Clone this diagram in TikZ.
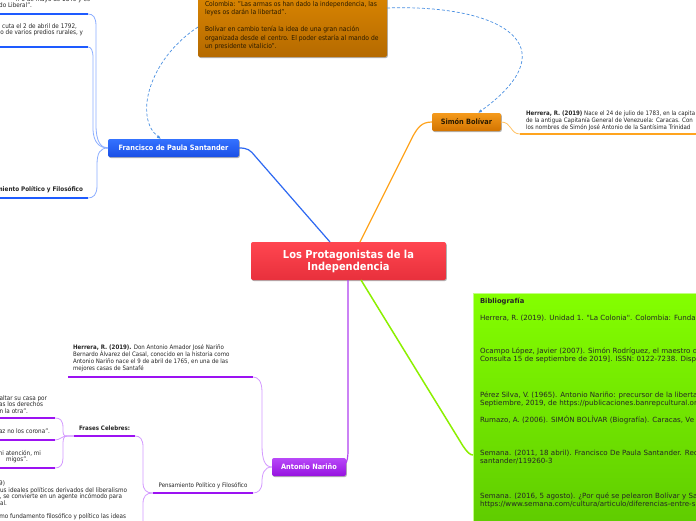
\documentclass[tikz,border=0pt]{standalone}
\usepackage{fontspec}
\setmainfont{DejaVu Sans}[FakeStretch=0.9]
\newfontfamily\bibfont{DejaVu Sans}
\usetikzlibrary{arrows.meta,shadows}
\definecolor{redtop}{HTML}{FF4650}
\definecolor{redbot}{HTML}{E8303C}
\definecolor{bluetop}{HTML}{3472FF}
\definecolor{bluebot}{HTML}{1A4FE6}
\definecolor{orgtop}{HTML}{F59A1C}
\definecolor{orgbot}{HTML}{D27400}
\definecolor{notetop}{HTML}{E38C02}
\definecolor{notebot}{HTML}{B56A00}
\definecolor{purtop}{HTML}{B848F8}
\definecolor{purbot}{HTML}{9612E0}
\definecolor{grntop}{HTML}{84FF00}
\definecolor{grnbot}{HTML}{5CC800}
\definecolor{bline}{HTML}{2D68F2}
\definecolor{blight}{HTML}{8CAEFF}
\definecolor{bthick}{HTML}{1E5BFF}
\definecolor{oline}{HTML}{FFA41E}
\definecolor{olight}{HTML}{FFC468}
\definecolor{pline}{HTML}{B040F0}
\definecolor{plight}{HTML}{D49AFF}
\definecolor{pthick}{HTML}{9C12F2}
\definecolor{gline}{HTML}{8CF000}
\definecolor{dashc}{HTML}{4A90E2}
\definecolor{txt}{HTML}{262626}
\definecolor{notetxt}{HTML}{2A1A00}
\newcommand\mmlines[1]{\parbox[t]{320pt}{#1}}
\begin{document}
\begin{tikzpicture}[x=1pt,y=-1pt,
  every node/.style={inner sep=0pt, outer sep=0pt, text=txt},
  shadowed/.style={drop shadow={shadow xshift=0.8pt,shadow yshift=-1pt,opacity=0.3,fill=black}},
  topic/.style={shadowed, rounded corners=2pt, minimum height=18, font=\fontsize{7.3}{8.5}\selectfont\bfseries},
  smr/.style={font=\fontsize{6.3}{7}\selectfont, anchor=base east},
  bibt/.style={font=\bibfont\fontsize{7.1}{8}\selectfont, anchor=base west},
  bthin/.style={blight, line width=0.8pt},
  bund/.style={bthick, line width=2.2pt},
  pthin/.style={plight, line width=0.8pt},
  pund/.style={pthick, line width=2.2pt},
  dashconn/.style={dashc, line width=0.7pt, dash pattern=on 3pt off 2pt, -{Latex[length=4pt,width=3.2pt]}}
]
\useasboundingbox (0,0) rectangle (696,520);
\clip (0,0) rectangle (696,520);
\fill[white] (0,0) rectangle (696,520);

% main nodes
\node[topic, top color=redtop, bottom color=redbot, text=white, minimum width=195, minimum height=38,
      font=\fontsize{11}{12}\selectfont\bfseries, align=center] (cent) at (348.5,261) {Los Protagonistas de la\\Independencia};
\node[topic, top color=bluetop, bottom color=bluebot, text=white, minimum width=131] (sant) at (173.5,148) {Francisco de Paula Santander};
\node[topic, top color=orgtop, bottom color=orgbot, text=notetxt, minimum width=69] (bol) at (466.5,122) {Simón Bolívar};
\node[topic, top color=purtop, bottom color=purbot, text=white, minimum width=74] (nar) at (309,467) {Antonio Nariño};
\node[shadowed, top color=notetop, bottom color=notebot, rounded corners=2pt, minimum width=189, minimum height=80, anchor=south west] (note) at (198,57) {};
\node[shadowed, top color=grntop, bottom color=grnbot, draw=grntop!50!white, line width=0.4pt, minimum width=240, minimum height=250, anchor=north west] (bib) at (473,293) {};

% note text
\node[anchor=base west, text=notetxt, font=\fontsize{6.7}{8.5}\selectfont] (notet) at (205,6)
  {\mmlines{Colombia: "Las armas os han dado la independencia, las\\leyes os darán la libertad".\\[8.5pt]Bolívar en cambio tenía la idea de una gran nación\\organizada desde el centro. El poder estaría al mando de\\un presidente vitalicio".}};

% dashed connectors
\draw[dashconn] ([yshift=-10pt]note.west) .. controls (148,60) and (134,118) .. ([xshift=-12.5pt]sant.north);
\draw[dashconn] ([yshift=9pt]note.east) .. controls (500,4) and (572,45) .. ([xshift=11.5pt]bol.north);

% central connectors
\draw[bline, line width=1.2pt] (sant.east) .. controls (248,148) and (250,150) .. (255,156) -- ([xshift=-18.5pt]cent.north);
\draw[oline, line width=1.2pt] (bol.west) .. controls (422,122) and (418,127) .. (413,136) -- ([xshift=11.5pt]cent.north);
\draw[pline, line width=1.2pt] ([xshift=-0.5pt]cent.south) -- (348,450) .. controls (348,458) and (347,461) .. ([yshift=4pt]nar.east);
\draw[gline, line width=1.5pt] ([xshift=12.5pt]cent.south) -- (463,446) .. controls (467,452) and (470,455) .. ([yshift=-37pt]bib.west);

% Simon Bolivar branch
\coordinate (bu1) at (520,134);
\coordinate (bu2) at (700,134);
\draw[olight, line width=0.8pt] (bol.east) .. controls (512,122) and (510,134) .. (bu1);
\draw[oline, line width=2.2pt] (bu1) -- (bu2);
\node[anchor=base west, font=\fontsize{6.1}{7}\selectfont] (bolt) at (526,115)
  {\mmlines{\textbf{Herrera, R. (2019)} Nace el 24 de julio de 1783, en la capita\\de la antigua Capitanía General de Venezuela: Caracas. Con\\los nombres de Simón José Antonio de la Santísima Trinidad}};

% Santander branches
\coordinate (s1a) at (-5,14); \coordinate (s1b) at (88,14);
\coordinate (s2a) at (-5,47); \coordinate (s2b) at (88,47);
\coordinate (s3a) at (-5,198); \coordinate (s3b) at (88,198);
\draw[bthin] (sant.west) .. controls (101,148) and (96,142) .. (96,125) -- (96,26) .. controls (96,17) and (93,14) .. (s1b);
\draw[bthin] (sant.west) .. controls (100,148) and (93,143) .. (93,128) -- (93,58) .. controls (93,50) and (91,47) .. (s2b);
\draw[bthin] (sant.west) .. controls (100,148) and (97,153) .. (97,165) -- (97,186) .. controls (97,195) and (93,198) .. (s3b);
\draw[bund] (s1a) -- (s1b);
\draw[bund] (s2a) -- (s2b);
\draw[bund] (s3a) -- (s3b);
\node[smr] (st1) at (90,1) {n 6 de mayo de 1840 y es};
\node[smr] (st2) at (32,7.5) {do Liberal".};
\node[smr] (st3) at (77,28) {cuta el 2 de abril de 1792,};
\node[smr] (st4) at (83,34.5) {rio de varios predios rurales, y};
\node[smr, font=\fontsize{6.3}{7}\selectfont\bfseries] (st5) at (83,191) {Pensamiento Político y Filosófico};

% Antonio Narino branches
\coordinate (n1a) at (68,377); \coordinate (n1b) at (253,377);
\coordinate (p1a) at (153,493); \coordinate (p1b) at (253,493);
\coordinate (fra) at (74,436); \coordinate (frb) at (135,436);
\coordinate (f1a) at (-5,418); \coordinate (f1b) at (55,418);
\coordinate (f2a) at (-5,440); \coordinate (f2b) at (55,440);
\coordinate (f3a) at (-5,468); \coordinate (f3b) at (55,468);
\draw[pthin] (nar.west) .. controls (265,467) and (262,460) .. (262,445) -- (262,392) .. controls (262,381) and (258,377) .. (n1b);
\draw[pthin] (nar.west) .. controls (264,467) and (262,474) .. (262,482) .. controls (262,490) and (258,493) .. (p1b);
\draw[pthin] (p1a) .. controls (146,493) and (143,490) .. (143,482) -- (143,447) .. controls (143,439) and (140,436) .. (frb);
\draw[pthin] (p1a) .. controls (146,493) and (143,496) .. (143,504) -- (143,525);
\draw[pthin] (fra) -- (67,436) .. controls (63,436) and (63,434) .. (63,428) .. controls (63,420) and (60,418) .. (f1b);
\draw[pthin] (fra) -- (67,436) .. controls (62,436) and (60,440) .. (f2b);
\draw[pthin] (fra) -- (67,436) .. controls (63,436) and (63,440) .. (63,446) -- (63,458) .. controls (63,465) and (60,468) .. (f3b);
\draw[pund] (n1a) -- (n1b);
\draw[pund] (p1a) -- (p1b);
\draw[pund] (fra) -- (frb);
\draw[pund] (f1a) -- (f1b);
\draw[pund] (f2a) -- (f2b);
\draw[pund] (f3a) -- (f3b);

\node[anchor=base west, font=\fontsize{6.1}{6.7}\selectfont] (nt1) at (73,349)
  {\mmlines{\textbf{Herrera, R. (2019).} Don Antonio Amador José Nariño\\Bernardo Álvarez del Casal, conocido en la historia como\\Antonio Nariño nace el 9 de abril de 1765, en una de las\\mejores casas de Santafé}};
\node[anchor=base, font=\fontsize{6.1}{7}\selectfont] (pens) at (203,487) {Pensamiento Político y Filosófico};
\node[anchor=base west, font=\fontsize{6.1}{7}\selectfont\bfseries] (fras) at (79,430) {Frases Celebres:};
\node[smr] (fa1) at (47,400) {saltar su casa por};
\node[smr] (fa2) at (43,406.5) {ras los derechos};
\node[smr] (fa3) at (28,413) {en la otra".};
\node[smr] (fb1) at (50,433) {az no los corona".};
\node[smr] (fc1) at (41,455) {mi atención, mi};
\node[smr] (fc2) at (28,461.5) {migos".};
\node[smr] (pt1) at (5,485) {9)};
\node[smr] (pt2) at (127,492) {sus ideales políticos derivados del liberalismo};
\node[smr] (pt3) at (122,498.5) {n, se convierte en un agente incómodo para};
\node[smr] (pt4) at (7,505) {ial.};
\node[smr] (pt5) at (126,518) {omo fundamento filosófico y político las ideas};

% Bibliography
\node[bibt, font=\bibfont\fontsize{6.8}{8}\selectfont\bfseries] (b0) at (480,303) {Bibliografía};
\node[bibt] (b1) at (480,320) {Herrera, R. (2019). Unidad 1. "La Colonia". Colombia: Fundar};
\node[bibt] (b2) at (480,353) {\mmlines{Ocampo López, Javier (2007). Simón Rodríguez, el maestro d\\Consulta 15 de septiembre de 2019]. ISSN: 0122-7238. Dispo}};
\node[bibt] (b3) at (480,397.5) {\mmlines{Pérez Silva, V. (1965). Antonio Nariño: precursor de la liberta\\Septiembre, 2019, de https://publicaciones.banrepcultural.or}};
\node[bibt] (b4) at (480,422) {Rumazo, A. (2006). SIMÓN BOLÍVAR (Biografía). Caracas, Ve};
\node[bibt] (b5) at (480,455) {\mmlines{Semana. (2011, 18 abril). Francisco De Paula Santander. Rec\\santander/119260-3}};
\node[bibt] (b6) at (480,498) {\mmlines{Semana. (2016, 5 agosto). ¿Por qué se pelearon Bolívar y Sa\\https://www.semana.com/cultura/articulo/diferencias-entre-s}};
\end{tikzpicture}
\end{document}
